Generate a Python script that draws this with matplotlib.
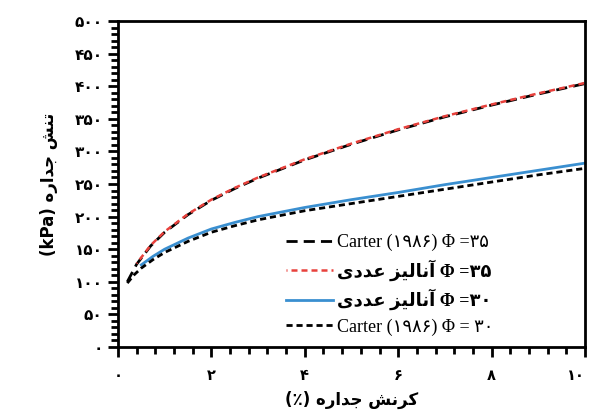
import matplotlib
matplotlib.use("Agg")
import matplotlib.pyplot as plt
from matplotlib.ticker import MultipleLocator
from matplotlib.font_manager import FontProperties

# ── data ─────────────────────────────────────────────────────────────────────
carter35_x = [0.2, 0.4, 0.7, 1.0, 1.5, 2.0, 2.5, 3.0, 4.0, 5.0, 6.0, 7.0, 8.0, 9.0, 10.0]
carter35_y = [100, 127, 155, 176, 203, 225, 243, 259, 287, 311, 333, 353, 371, 388, 404]

num35_x = [0.4, 0.7, 1.0, 1.5, 2.0, 2.5, 3.0, 4.0, 5.0, 6.0, 7.0, 8.0, 9.0, 10.0]
num35_y = [128, 156, 177, 204, 226, 244, 260, 288, 312, 334, 354, 372, 389, 405]

num30_x = [0.5, 0.75, 1.0, 1.5, 2.0, 2.5, 3.0, 4.0, 5.0, 6.0, 7.0, 8.0, 9.0, 10.0]
num30_y = [126, 139, 150, 167, 181, 191, 200, 214, 226, 237, 249, 260, 271, 282]

carter30_x = [0.2, 0.35, 0.5, 0.75, 1.0, 1.5, 2.0, 2.5, 3.0, 4.0, 5.0, 6.0, 7.0, 8.0, 9.0, 10.0]
carter30_y = [98, 111, 121, 134, 145, 162, 176, 186, 195, 209, 220, 231, 242, 253, 264, 274]

FA_DIGITS = "۰۱۲۳۴۵۶۷۸۹"
x_ticks = [0, 2, 4, 6, 8, 10]
y_ticks = list(range(0, 501, 50))

# minimal Persian shaping: (isolated, final, initial, medial)
FORMS = {
    "ا": ("\uFE8D", "\uFE8E", None, None),
    "آ": ("\uFE81", "\uFE82", None, None),
    "د": ("\uFEA9", "\uFEAA", None, None),
    "ر": ("\uFEAD", "\uFEAE", None, None),
    "ز": ("\uFEAF", "\uFEB0", None, None),
    "ت": ("\uFE95", "\uFE96", "\uFE97", "\uFE98"),
    "ن": ("\uFEE5", "\uFEE6", "\uFEE7", "\uFEE8"),
    "ش": ("\uFEB5", "\uFEB6", "\uFEB7", "\uFEB8"),
    "ج": ("\uFE9D", "\uFE9E", "\uFE9F", "\uFEA0"),
    "ه": ("\uFEE9", "\uFEEA", "\uFEEB", "\uFEEC"),
    "ک": ("\uFB8E", "\uFB8F", "\uFB90", "\uFB91"),
    "ل": ("\uFEDD", "\uFEDE", "\uFEDF", "\uFEE0"),
    "ی": ("\uFBFC", "\uFBFD", "\uFBFE", "\uFBFF"),
    "ع": ("\uFEC9", "\uFECA", "\uFECB", "\uFECC"),
}


def fa(text):
    out = []
    for i, ch in enumerate(text):
        if ch not in FORMS:
            out.append(ch)
            continue
        prev = text[i - 1] if i > 0 else ""
        nxt = text[i + 1] if i + 1 < len(text) else ""
        jp = prev in FORMS and FORMS[prev][2] is not None
        jn = FORMS[ch][2] is not None and nxt in FORMS
        iso, fin, ini, med = FORMS[ch]
        out.append(med if jp and jn else fin if jp else ini if jn else iso)
    return "".join(reversed(out))


def fa_num(n):
    return "".join(FA_DIGITS[int(c)] for c in str(n))


labels = [
    "Carter (۱۹۸۶) Φ =۳۵",
    fa("آنالیز عددی") + " Φ =۳۵",
    fa("آنالیز عددی") + " Φ =۳۰",
    "Carter (۱۹۸۶) Φ = ۳۰",
]

fig = plt.figure(figsize=(5.89, 4.16), dpi=100)
ax = fig.add_axes([0.2003, 0.1659, 0.7929, 0.7836])

ax.plot(carter35_x, carter35_y, color="black", lw=2, linestyle=(0, (4, 2.2)), label=labels[0])
ax.plot(num35_x, num35_y, color="#e8413c", lw=1.8, linestyle=(2, (2.4, 1.6)), label=labels[1])
ax.plot(num30_x, num30_y, color="#3a8fd0", lw=2, label=labels[2])
ax.plot(carter30_x, carter30_y, color="black", lw=2, linestyle=(0, (2.2, 1.4)), label=labels[3])

ax.set_xlim(0, 10)
ax.set_ylim(0, 500)
ax.set_xticks(x_ticks)
ax.set_yticks(y_ticks)
ax.xaxis.set_minor_locator(MultipleLocator(0.4))
ax.yaxis.set_minor_locator(MultipleLocator(10))
ax.set_xticklabels([fa_num(v) for v in x_ticks], fontsize=10.5, fontweight="bold")
ax.set_yticklabels([fa_num(v) for v in y_ticks], fontsize=11, fontweight="bold")
ax.get_xticklabels()[-1].set_horizontalalignment("right")
ax.tick_params(which="major", direction="out", length=7, width=2, pad=4)
ax.tick_params(which="minor", direction="out", length=5, width=2)
ax.tick_params(axis="x", which="major", pad=8)

for s in ax.spines.values():
    s.set_linewidth(2)

ax.set_xlabel("(٪) " + fa("کرنش جداره"), fontsize=12, fontweight="bold", labelpad=6)
ax.set_ylabel("(kPa) " + fa("تنش جداره"), fontsize=12, fontweight="bold", labelpad=12)

leg = ax.legend(loc="lower left", bbox_to_anchor=(0.325, -0.015), frameon=False,
                prop=FontProperties(family=["Liberation Serif", "DejaVu Sans"], size=13),
                handlelength=2.6, handletextpad=0.2, labelspacing=0.45)
for t in leg.get_texts()[1:3]:
    t.set_fontweight("bold")

fig.savefig("out.png", dpi=100)
